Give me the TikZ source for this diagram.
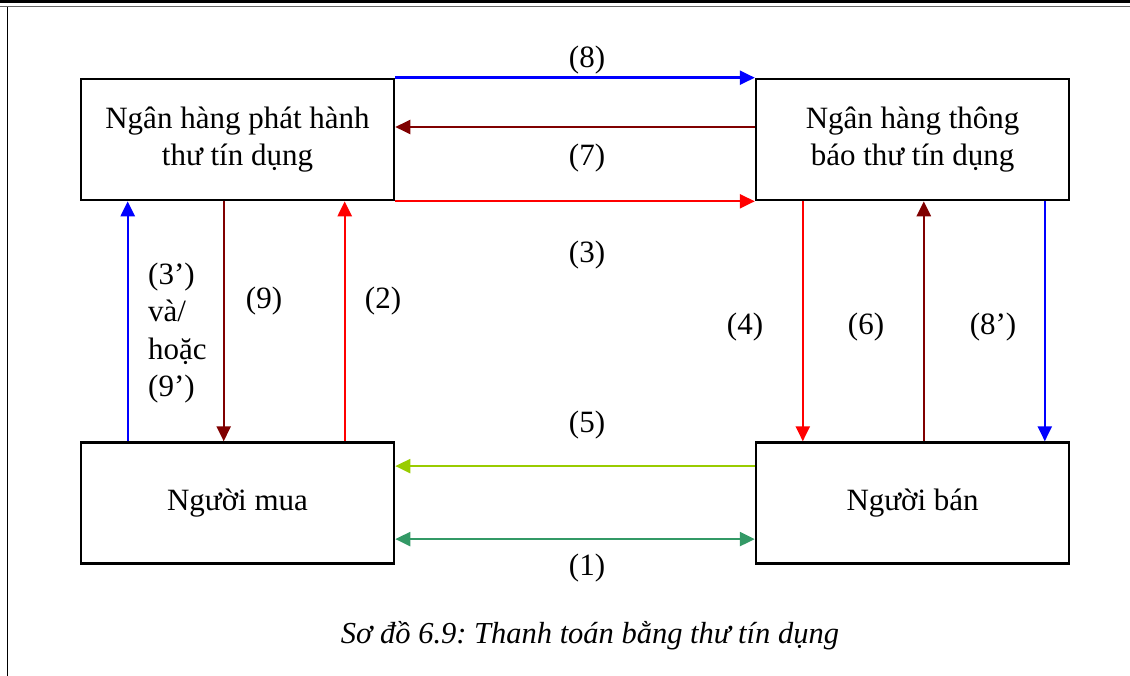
\documentclass[tikz,border=0pt]{standalone}
\usepackage{fontspec}
\setmainfont{Liberation Serif}
\usepackage{xcolor}
\usepackage{tikz}
\usetikzlibrary{positioning, arrows.meta}
\frenchspacing

\definecolor{darkred}{RGB}{128,0,0}
\definecolor{limegreen}{RGB}{153,204,0}
\definecolor{seagreen}{RGB}{51,153,102}

\begin{document}
\begin{tikzpicture}[
  x=1pt, y=-1pt,
  font=\fontsize{31}{37.5}\selectfont,
  party/.style={draw, line width=2.6pt, rectangle, minimum width=313pt, minimum height=121pt, align=center, inner sep=0pt},
  flow/.style={line width=2.4pt, -{Triangle[length=15pt, width=14pt]}},
  both/.style={line width=2.4pt, {Triangle[length=15pt, width=14pt]}-{Triangle[length=15pt, width=14pt]}},
  num/.style={inner sep=0pt, align=left}
]
\useasboundingbox (0,0) rectangle (1130,676);

% Page frame
\draw[line width=3pt] (0,2) -- (1130,2);
\draw[line width=1pt, black!60] (0,6.5) -- (1130,6.5);
\draw[line width=1pt] (7,7) -- (7,676);

% Banks
\node[party] (Issuer) at (237.5,139.5) {Ngân hàng phát hành\\thư tín dụng};
\node[party, right=359.5pt of Issuer] (Advising) {Ngân hàng thông\\báo thư tín dụng};

% Buyer and seller
\node[party, below=240pt of Issuer] (Buyer) {Người mua};
\node[party, below=240pt of Advising] (Seller) {Người bán};

% Between the banks
\draw[flow, blue] (Issuer.north east) -- (Advising.north west);
\draw[flow, darkred] ([yshift=12.5pt]Advising.west) -- ([yshift=12.5pt]Issuer.west -| Issuer.east);
\draw[flow, red] (Issuer.south east) -- (Advising.south west);

% Buyer side
\draw[flow, blue] ([xshift=48pt]Buyer.north west) -- ([xshift=48pt]Issuer.south west);
\draw[flow, darkred] ([xshift=144pt]Issuer.south west) -- ([xshift=144pt]Buyer.north west);
\draw[flow, red] ([xshift=265pt]Buyer.north west) -- ([xshift=265pt]Issuer.south west);

% Seller side
\draw[flow, red] ([xshift=48pt]Advising.south west) -- ([xshift=48pt]Seller.north west);
\draw[flow, darkred] ([xshift=169pt]Seller.north west) -- ([xshift=169pt]Advising.south west);
\draw[flow, blue] ([xshift=290pt]Advising.south west) -- ([xshift=290pt]Seller.north west);

% Buyer and seller
\draw[flow, limegreen] ([yshift=37pt]Seller.west) -- ([yshift=37pt]Buyer.east);
\draw[both, seagreen] ([yshift=-36pt]Buyer.east) -- ([yshift=-36pt]Seller.west);

% Step numbers
\node[num] (n8) at (587,60) {(8)};
\node[num] (n7) at (587,158) {(7)};
\node[num] (n3) at (587,255) {(3)};
\node[num, anchor=west] (n3b) at (148,333) {(3’)\\và/\\hoặc\\(9’)};
\node[num] (n9) at (264,301) {(9)};
\node[num] (n2) at (383,301) {(2)};
\node[num] (n4) at (745,327) {(4)};
\node[num] (n6) at (866,327) {(6)};
\node[num] (n8b) at (993,327) {(8’)};
\node[num] (n5) at (587,425) {(5)};
\node[num] (n1) at (587,568) {(1)};

% Caption
\node[num, font=\fontsize{30.5}{37}\selectfont\itshape] (caption) at (590,636) {Sơ đồ 6.9: Thanh toán bằng thư tín dụng};

\end{tikzpicture}
\end{document}
